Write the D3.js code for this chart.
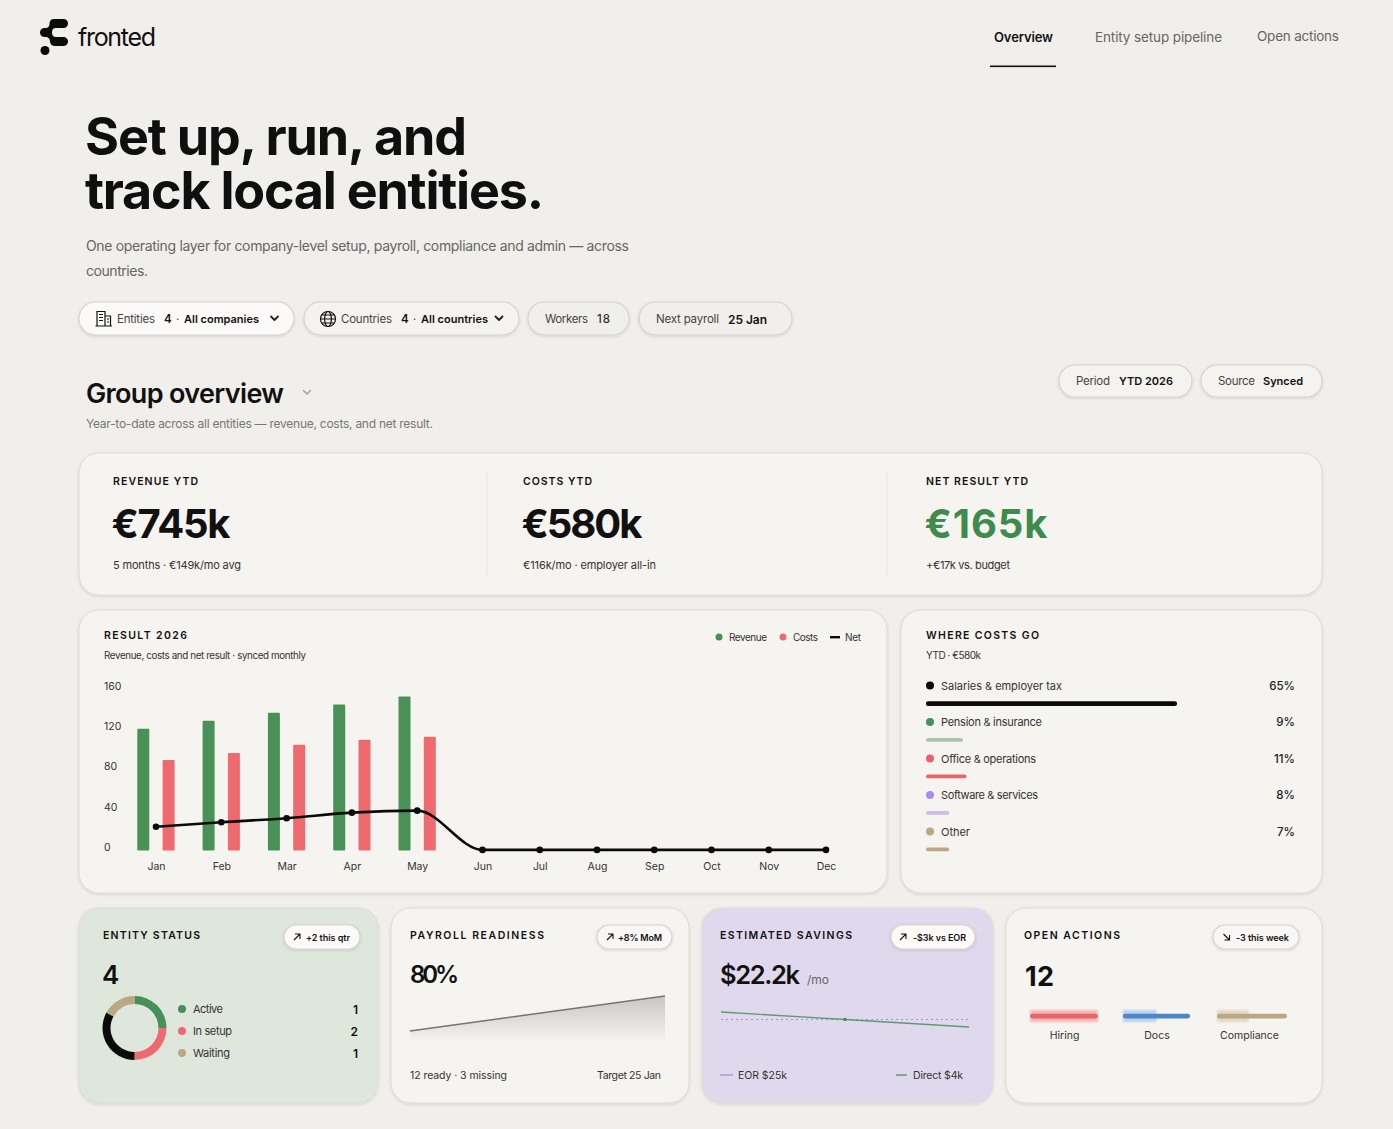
<!DOCTYPE html>
<html><head><meta charset="utf-8">
<script src="https://cdn.jsdelivr.net/npm/d3@7"></script>
<style>
html,body{margin:0;padding:0;background:#f1efec;overflow:hidden}
svg{display:block}
text{font-family:Inter,"Noto Sans",Roboto,sans-serif;fill:#111}
#head{position:absolute;left:85px;top:110px;font-family:Inter,"Noto Sans",Roboto,sans-serif;font-size:52px;font-weight:700;line-height:54px;color:#0f0f0f;white-space:nowrap}
#head div{height:54px;overflow:visible}
</style></head><body><svg id="c" width="1393" height="1129"></svg><div id="head"></div>
<script>
// ---- chart data
const months=["Jan","Feb","Mar","Apr","May","Jun","Jul","Aug","Sep","Oct","Nov","Dec"];
const revenue=[121,129,137,145,153];
const costs=[90,97,105,110,113];
const net=[23,27.5,31.5,37,39,0,0,0,0,0,0,0];
const yTicks=[0,40,80,120,160];
const costNames=["Salaries & employer tax","Pension & insurance","Office & operations","Software & services","Other"];
const costLabels=["65%","9%","11%","8%","7%"];
const costBars=[65,9.6,10.5,6,6];
const costDots=["#0b0b0b","#46905a","#ec626a","#a78ce8","#baa883"];
const costColors=["#0b0b0b","#abc6ad","#e8636a","#cdbcf0","#baa883"];
const donutShares=[25,25,33,17];
const donutColors=["#46905a","#ee6a6f","#0b0b0b","#baa883"];
const statusNames=["Active","In setup","Waiting"];
const statusCounts=[1,2,1];
const statusDots=["#46905a","#ee6a6f","#baa883"];
const readiness=[72,80];
const directLine=[24,22.2,20.4];
const eorLine=[22.2,22.2,22.2];
const actionNames=["Hiring","Docs","Compliance"];
const actionLevels=[97,96,100];
const actionColors=["#e8636a","#4a86c8","#baa883"];
const actionHalos=[1,0.5,0.45];
const actionHaloColors=["#f3b0b0","#b3cdea","#e0d6c2"];

const svg=d3.select("#c");
const defs=svg.append("defs");
const sh=defs.append("filter").attr("id","sh").attr("x","-5%").attr("y","-5%").attr("width","110%").attr("height","115%");
sh.append("feDropShadow").attr("dx",0).attr("dy",1).attr("stdDeviation",1.6).attr("flood-color","#000").attr("flood-opacity",.13);
const bl=defs.append("filter").attr("id","bl").attr("x","-20%").attr("y","-80%").attr("width","140%").attr("height","260%");
bl.append("feGaussianBlur").attr("stdDeviation",1);
const gr=defs.append("linearGradient").attr("id","ag").attr("x1",0).attr("x2",0).attr("y1",0).attr("y2",1);
gr.append("stop").attr("offset",0).attr("stop-color","#8a8783").attr("stop-opacity",.42);
gr.append("stop").attr("offset",.8).attr("stop-color","#8a8783").attr("stop-opacity",0);

function T(x,y,s,o={}){
  const t=svg.append("text").attr("x",x).attr("y",y).text(s)
    .attr("font-size",o.fs||12).attr("font-weight",o.fw||400).style("fill",o.c||"#111")
    .attr("dominant-baseline",o.base?"auto":"central");
  if(o.end)t.attr("text-anchor","end");
  if(o.w){const l=t.node().getComputedTextLength();t.style("letter-spacing",((o.w-l)/Math.max(1,s.length-1))+"px");}
  return t;
}
function card(x0,y0,x1,y1,fill,r){
  svg.append("rect").attr("x",x0).attr("y",y0).attr("width",x1-x0).attr("height",y1-y0).attr("rx",r||20)
    .attr("fill",fill).attr("stroke","#dedcd7").attr("stroke-width",1).attr("filter","url(#sh)");
}
function pill(x0,y0,x1,y1,fill){
  const h=y1-y0;
  svg.append("rect").attr("x",x0).attr("y",y0).attr("width",x1-x0).attr("height",h).attr("rx",h/2)
    .attr("fill",fill).attr("stroke","#d6d4cf").attr("stroke-width",1.2).attr("filter","url(#sh)");
}
function chev(cx,cy,c,sw){
  svg.append("path").attr("d",`M${cx-3.5},${cy-2}L${cx},${cy+1.5}L${cx+3.5},${cy-2}`).attr("fill","none").attr("stroke",c).attr("stroke-width",sw||1.8).attr("stroke-linecap","round").attr("stroke-linejoin","round");
}
function arrow(x,y,down){
  const d=down?`M${x},${y-3}L${x+6},${y+3}M${x+1},${y+3}H${x+6}V${y-2}`:`M${x},${y+3}L${x+6},${y-3}M${x+1},${y-3}H${x+6}V${y+2}`;
  svg.append("path").attr("d",d).attr("fill","none").attr("stroke","#111").attr("stroke-width",1.1);
}

// ---- header
svg.append("path").attr("fill","#0b0b0b").attr("d","M54,19H63.5A4.5,4.5 0 0 1 63.5,28H56C53,28 52,30 52,32.5C52,35 53,37 56,37H63.5A4.5,4.5 0 0 1 63.5,46H55C52,46 50,44 50,41.5C50,39 48.5,37 45,37H44.5A4.5,4.5 0 0 1 44.5,28H45C48.5,28 49.5,26 49.5,23.5C49.5,21 51,19 54,19Z");
svg.append("circle").attr("cx",45).attr("cy",50.5).attr("r",4.5).attr("fill","#0b0b0b");
T(78,37,"fronted",{fs:25,w:78});
T(994,37,"Overview",{fs:13,fw:600,w:59});
T(1095,37,"Entity setup pipeline",{fs:13.5,c:"#666",w:127});
T(1257,36,"Open actions",{fs:13.5,c:"#666",w:82});
svg.append("rect").attr("x",990).attr("y",65.5).attr("width",66).attr("height",1.6).attr("fill","#111");

// headline: two block lines with tight line-height
[["Set up, run, and",382],["track local entities.",459]].forEach(([s,w])=>{
  const sp=d3.select("#head").append("div").append("span").text(s);
  const l=sp.node().getBoundingClientRect().width;
  sp.style("letter-spacing",((w-l)/(s.length-1))+"px");
});
T(86,245,"One operating layer for company-level setup, payroll, compliance and admin — across",{fs:14,c:"#666",w:543});
T(86,270,"countries.",{fs:14,c:"#666",w:62});

// ---- filter pills
pill(79,302,294,335,"#fbfaf8");
pill(304,302,519,335,"#f5f3f0");
pill(528,302,629,335,"#f1efec");
pill(639,302,792,335,"#f1efec");
const ic=svg.append("g").attr("fill","none").attr("stroke","#111").attr("stroke-width",1.2);
ic.append("path").attr("d","M97,326V311.5H105V326M105,316H110.5V326M95.5,326H112M99,314.5H103M99,317.5H103M99,320.5H103M107,319H109M107,322H109");
ic.append("circle").attr("cx",328).attr("cy",319).attr("r",7.5);
ic.append("ellipse").attr("cx",328).attr("cy",319).attr("rx",3.4).attr("ry",7.5);
ic.append("path").attr("d","M320.5,319H335.5M321.5,315H334.5M321.5,323H334.5");
T(117,319,"Entities",{fs:11.5,c:"#444",w:38});
T(164,319,"4",{fs:11.5,fw:600});
T(176,319,"·",{fs:11.5,c:"#444"});
T(184,319,"All companies",{fs:11,fw:600,w:75});
chev(274.5,318.5,"#222");
T(341,319,"Countries",{fs:11.5,c:"#444",w:51});
T(401,319,"4",{fs:11.5,fw:600});
T(413,319,"·",{fs:11.5,c:"#444"});
T(421,319,"All countries",{fs:11,fw:600,w:67});
chev(499,318.5,"#222");
T(545,319,"Workers",{fs:11.5,c:"#444",w:43});
T(597,319,"18",{fs:11.5,fw:500,c:"#333",w:13});
T(656,319,"Next payroll",{fs:11.5,c:"#444",w:63});
T(728,319,"25 Jan",{fs:12,fw:600,w:39});

T(86,393,"Group overview",{fs:27,fw:600,w:198});
chev(307,392.5,"#a3a19c",1.5);
T(86,423.5,"Year-to-date across all entities — revenue, costs, and net result.",{fs:12,c:"#777",w:347});
pill(1059,365,1192,397,"#f5f3f0");
pill(1201,365,1322,397,"#f5f3f0");
T(1076,381,"Period",{fs:11.5,c:"#444",w:34});
T(1119,381,"YTD 2026",{fs:11,fw:600,w:54});
T(1218,381,"Source",{fs:11.5,c:"#444",w:37});
T(1263,381,"Synced",{fs:11,fw:600,w:40});

// ---- KPI card
card(79,453,1322,595,"#f6f4f1");
[487,887].forEach(x=>svg.append("line").attr("x1",x).attr("x2",x).attr("y1",473).attr("y2",575).attr("stroke","#e3e1dc"));
const L={fs:10.5,fw:600};
T(113,481,"REVENUE YTD",{...L,w:85});
T(523,481,"COSTS YTD",{...L,w:69});
T(926,481,"NET RESULT YTD",{...L,w:102});
T(111.5,523.5,"€745k",{fs:40,fw:700,w:119});
T(521.5,523.5,"€580k",{fs:40,fw:700,w:121});
T(924.5,523.5,"€165k",{fs:40,fw:700,w:123,c:"#3f8a4d"});
T(113,565,"5 months · €149k/mo avg",{fs:11,c:"#333",w:128});
T(523,565,"€116k/mo · employer all-in",{fs:11,c:"#333",w:133});
T(926,565,"+€17k vs. budget",{fs:11,c:"#333",w:84});

// ---- result chart
card(79,610,887,893,"#f6f4f1");
T(104,635,"RESULT 2026",{...L,w:83});
T(104,655.5,"Revenue, costs and net result · synced monthly",{fs:9.8,c:"#333",w:202});
svg.append("circle").attr("cx",719).attr("cy",637).attr("r",3.5).attr("fill","#46905a");
T(729,637,"Revenue",{fs:10,c:"#333",w:38});
svg.append("circle").attr("cx",783).attr("cy",637).attr("r",3.5).attr("fill","#ee6a6f");
T(793,637,"Costs",{fs:10,c:"#333",w:25});
svg.append("rect").attr("x",830).attr("y",636).attr("width",10).attr("height",2.4).attr("fill","#0b0b0b");
T(845,637,"Net",{fs:10,c:"#333",w:16});

const x=d3.scaleLinear().domain([0,5,11]).range([156,482.5,826]);
const y=d3.scaleLinear().domain([0,160]).range([850.5,689.5]);
const barW=12;
const yAxis=svg.append("g").attr("transform","translate(104,-3.6)")
  .call(d3.axisLeft(y).tickValues(yTicks).tickSize(0).tickPadding(0));
yAxis.select(".domain").remove();
yAxis.selectAll("text").attr("text-anchor","start").attr("x",0).attr("font-size",10.5).attr("font-family","Inter").style("fill","#333");
const xAxis=svg.append("g").attr("transform","translate(0,859)")
  .call(d3.axisBottom(x).tickValues(d3.range(12)).tickFormat(i=>months[i]).tickSize(0).tickPadding(3.5));
xAxis.select(".domain").remove();
xAxis.selectAll("text").attr("font-size",10.5).attr("font-family","Inter").style("fill","#333");

svg.append("g").selectAll("rect").data(revenue).join("rect")
  .attr("x",(d,i)=>x(i)-18.7).attr("width",barW).attr("y",d=>y(d)).attr("height",d=>y(0)-y(d)).attr("rx",1).attr("fill","#4a9158");
svg.append("g").selectAll("rect").data(costs).join("rect")
  .attr("x",(d,i)=>x(i)+6.6).attr("width",barW).attr("y",d=>y(d)).attr("height",d=>y(0)-y(d)).attr("rx",1).attr("fill","#ee6a6f");
svg.append("path").datum(net).attr("fill","none").attr("stroke","#0b0b0b").attr("stroke-width",2.6)
  .attr("d",d3.line().x((d,i)=>x(i)).y(d=>y(d)-0.6).curve(d3.curveMonotoneX));
svg.append("g").selectAll("circle").data(net).join("circle")
  .attr("cx",(d,i)=>x(i)).attr("cy",d=>y(d)-0.6).attr("r",3.3).attr("fill","#0b0b0b");

// ---- where costs go
card(901,610,1322,893,"#f6f4f1");
T(926,635,"WHERE COSTS GO",{...L,w:113});
T(926,654.5,"YTD · €580k",{fs:10,c:"#333",w:55});
const rowY=d3.scalePoint().domain(d3.range(5)).range([685.5,831.5]);
const barScale=d3.scaleLinear().domain([0,65]).range([0,251]);
const rowW=[121,101,95,97,29];
costNames.forEach((n,i)=>{
  svg.append("circle").attr("cx",930).attr("cy",rowY(i)).attr("r",4).attr("fill",costDots[i]);
  T(941,rowY(i),n,{fs:11,c:"#333",w:rowW[i]});
  T(1295,rowY(i),costLabels[i],{fs:11.5,fw:500,end:1,c:"#222"});
  svg.append("rect").attr("x",926).attr("y",rowY(i)+(i?16:15.8)).attr("width",barScale(costBars[i])).attr("height",i?3.8:4.6).attr("rx",2).attr("fill",costColors[i]);
});

// ---- entity status
card(79,908,378,1103,"#dfe6dc");
const BL={fs:10.5,fw:600};
T(103,935,"ENTITY STATUS",{...BL,w:97});
pill(284,925,360,949,"#fbfaf8"); arrow(294,937);
T(306,937,"+2 this qtr",{fs:9,fw:600,w:44});
T(102,974,"4",{fs:26,fw:600,w:15});
const arcs=d3.pie().sort(null)(donutShares);
const arc=d3.arc().innerRadius(24).outerRadius(32);
svg.append("g").attr("transform","translate(134.5,1028)").selectAll("path").data(arcs).join("path")
  .attr("d",arc).attr("fill",(d,i)=>donutColors[i]);
const stY=d3.scalePoint().domain(d3.range(3)).range([1009,1053]);
const stW=[30,39,37];
statusNames.forEach((n,i)=>{
  svg.append("circle").attr("cx",182).attr("cy",stY(i)).attr("r",4).attr("fill",statusDots[i]);
  T(193,stY(i),n,{fs:11,c:"#333",w:stW[i]});
  T(358,stY(i),String(statusCounts[i]),{fs:12,fw:600,end:1});
});

// ---- payroll readiness
card(391,908,689,1103,"#f6f4f1");
T(410,935,"PAYROLL READINESS",{...BL,w:134});
pill(597,925,672,949,"#f8f7f5"); arrow(607,937);
T(618,937,"+8% MoM",{fs:9,fw:600,w:44});
T(410,974,"80%",{fs:24,fw:600,w:49});
const px=d3.scaleLinear().domain([0,1]).range([410,665]);
const py=d3.scaleLinear().domain([72,80]).range([1031,996]);
svg.append("path").datum(readiness).attr("fill","url(#ag)")
  .attr("d",d3.area().x((d,i)=>px(i)).y0(1054).y1(d=>py(d)));
svg.append("path").datum(readiness).attr("fill","none").attr("stroke","#77746f").attr("stroke-width",1.4)
  .attr("d",d3.line().x((d,i)=>px(i)).y(d=>py(d)));
T(410,1075,"12 ready · 3 missing",{fs:10.5,c:"#333",w:97});
T(597,1075,"Target 25 Jan",{fs:10.5,c:"#333",w:64});

// ---- estimated savings
card(702,908,993,1103,"#e0d9ee");
T(720,935,"ESTIMATED SAVINGS",{...BL,w:132});
pill(891,925,975,949,"#fbfaf8"); arrow(900,937);
T(913,937,"-$3k vs EOR",{fs:9,fw:600,w:53});
T(720,974,"$22.2k",{fs:25.5,fw:600,w:80});
T(807,979,"/mo",{fs:12,c:"#666",w:22});
const sx=d3.scaleLinear().domain([0,2]).range([721,969]);
const sy=d3.scaleLinear().domain([20.4,24]).range([1027,1012]);
svg.append("path").datum(eorLine).attr("fill","none").attr("stroke","#a58fe6").attr("stroke-width",1.2).attr("stroke-dasharray","2 3")
  .attr("d",d3.line().x((d,i)=>sx(i)).y(d=>sy(d)));
svg.append("path").datum(directLine).attr("fill","none").attr("stroke","#5f9a70").attr("stroke-width",1.3)
  .attr("d",d3.line().x((d,i)=>sx(i)).y(d=>sy(d)));
svg.append("circle").attr("cx",sx(1)).attr("cy",sy(directLine[1])).attr("r",1.7).attr("fill","#3f8a4d");
svg.append("rect").attr("x",720).attr("y",1074.3).attr("width",13).attr("height",1.5).attr("fill","#ac9be6");
T(738,1075,"EOR $25k",{fs:10.5,c:"#333",w:49});
svg.append("rect").attr("x",896).attr("y",1074.3).attr("width",11).attr("height",1.5).attr("fill","#5f9a70");
T(913,1075,"Direct $4k",{fs:10.5,c:"#333",w:50});

// ---- open actions
card(1006,908,1322,1103,"#f6f4f1");
T(1024,935,"OPEN ACTIONS",{...BL,w:96});
pill(1213,925,1299,949,"#f8f7f5"); arrow(1223.5,937,true);
T(1236,937,"-3 this week",{fs:9,fw:600,w:53});
T(1025,976,"12",{fs:27,fw:700,w:29});
const ax=d3.scalePoint().domain(actionNames).range([1064,1249]);
const aw=d3.scaleLinear().domain([0,100]).range([0,70]);
const axG=svg.append("g").attr("transform","translate(0,1029)").call(d3.axisBottom(ax).tickSize(0).tickPadding(0));
axG.select(".domain").remove();
axG.selectAll("text").attr("font-size",10.5).attr("font-family","Inter").attr("dy","0.95em").style("fill","#333");
actionNames.forEach((n,i)=>{
  const x0=ax(n)+(i==2?3:0)-aw(actionLevels[i])/2;
  svg.append("rect").attr("x",x0).attr("y",1010).attr("width",aw(actionLevels[i])*actionHalos[i]).attr("height",12)
    .attr("fill",actionHaloColors[i]).attr("opacity",.9).attr("filter","url(#bl)");
  svg.append("rect").attr("x",x0).attr("y",1013.7).attr("width",aw(actionLevels[i])).attr("height",4.8).attr("rx",2.4).attr("fill",actionColors[i]);
});
</script></body></html>
